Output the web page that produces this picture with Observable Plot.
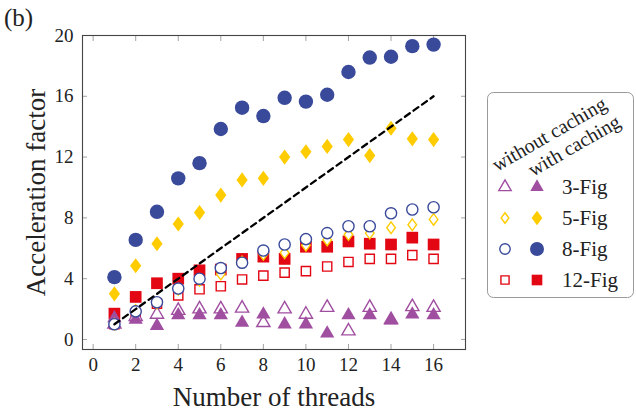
<!DOCTYPE html>
<html><head><meta charset="utf-8">
<script src="https://cdn.jsdelivr.net/npm/d3@7"></script>
<script src="https://cdn.jsdelivr.net/npm/@observablehq/plot@0.6"></script>
<style>
body{margin:0;background:#fff;}
#wrap{position:relative;width:636px;height:410px;font-family:"Liberation Serif",serif;color:#222;}
#wrap svg text{font-family:"Liberation Serif",serif;}
#tag{position:absolute;left:4px;top:4px;font-size:25px;}
#legend{position:absolute;left:0;top:0;}
</style></head><body><div id="wrap"><div id="tag">(b)</div></div>
<script>
// ---- data ----
const threads = [1,2,3,4,5,6,7,8,9,10,11,12,13,14,15,16];
const xTicks = [0,2,4,6,8,10,12,14,16];
const yTicks = [0,4,8,12,16,20];
const ideal = [1,16];
const fig3NoCache = [1.0,1.5,1.65,1.9,2.0,2.0,2.05,1.1,2.0,1.65,2.1,0.55,2.1,1.3,2.15,2.1];
const fig3Cache   = [1.4,1.3,0.9,1.6,1.6,1.6,1.1,1.65,1.0,1.0,0.4,1.6,1.6,1.25,1.65,1.6];
const fig5NoCache = [1.0,1.9,2.4,3.3,3.9,4.3,5.1,5.6,5.7,6.2,6.55,6.9,7.0,7.35,7.55,7.9];
const fig5Cache   = [3.0,4.85,6.3,7.6,8.35,9.5,10.5,10.6,12.0,12.35,12.7,13.15,12.1,13.9,13.2,13.15];
const fig8NoCache = [1.0,1.85,2.45,3.35,4.0,4.7,5.05,5.85,6.25,6.6,7.0,7.45,7.45,8.3,8.55,8.7];
const fig8Cache   = [4.1,6.55,8.4,10.6,11.6,13.85,15.25,14.7,15.9,15.65,16.1,17.6,18.55,18.6,19.3,19.4];
const fig12NoCache= [1.0,1.7,2.35,2.9,3.3,3.5,3.95,4.2,4.4,4.5,4.8,5.1,5.3,5.3,5.55,5.3];
const fig12Cache  = [1.7,2.8,3.7,4.0,4.55,4.6,5.3,5.45,5.3,6.1,6.1,6.45,6.3,6.25,6.7,6.25];
const labels = ["3-Fig","5-Fig","8-Fig","12-Fig"];
const colors = {"3-Fig":"#a04ea0","5-Fig":"#ffcc00","8-Fig":"#3a4a9b","12-Fig":"#e30613"};
const serif = "Liberation Serif, serif";

// custom diamond (aspect ~0.74)
const diamond = {draw(ctx, size){const k=0.74;const a=Math.sqrt(size*k/2);const b=a/k;ctx.moveTo(0,-b);ctx.lineTo(a,0);ctx.lineTo(0,b);ctx.lineTo(-a,0);ctx.closePath();}};

const toRows = v => v.map((y,i)=>({x:threads[i], y}));
const series = [
  {name:"12-Fig", data:fig12NoCache, filled:false, symbol:"square", r:5.2},
  {name:"12-Fig", data:fig12Cache, filled:true, symbol:"square", r:6.6},
  {name:"3-Fig", data:fig3NoCache, filled:false, symbol:"triangle", r:4.9},
  {name:"3-Fig", data:fig3Cache, filled:true, symbol:"triangle", r:5.3},
  {name:"5-Fig", data:fig5NoCache, filled:false, symbol:diamond, r:4.0},
  {name:"5-Fig", data:fig5Cache, filled:true, symbol:diamond, r:5.2},
  {name:"8-Fig", data:fig8NoCache, filled:false, symbol:"circle", r:5.6},
  {name:"8-Fig", data:fig8Cache, filled:true, symbol:"circle", r:7.2}
];

const dotMarks = series.map(s => Plot.dot(toRows(s.data), {
  x:"x", y:"y", symbol: s.symbol, r: s.r,
  fill: s.filled ? colors[s.name] : "white",
  stroke: s.filled ? "none" : colors[s.name],
  strokeWidth: 1.4
}));

const tickStyle = {stroke:"#999", strokeWidth:0.9, fontFamily:serif};
const chart = Plot.plot({
  width:636, height:410,
  marginLeft:82, marginRight:171, marginTop:35, marginBottom:61,
  style:{fontFamily:serif, fontSize:"19px", color:"#222", background:"transparent"},
  x:{domain:[-0.5,17.5]},
  y:{domain:[-0.66,20]},
  marks:[
    Plot.axisX(xTicks,{anchor:"bottom", tickSize:-5, tickPadding:13, label:null, ...tickStyle, fill:"#222", fontSize:19}),
    Plot.axisX(xTicks,{anchor:"top", tickSize:-5, tickFormat:()=>"", label:null, ...tickStyle}),
    Plot.axisY(yTicks,{anchor:"left", tickSize:-5, tickPadding:14, label:null, ...tickStyle, fill:"#222", fontSize:19}),
    Plot.axisY(yTicks,{anchor:"right", tickSize:-5, tickFormat:()=>"", label:null, ...tickStyle}),
    ...dotMarks,
    Plot.line(ideal.map(v=>({x:v,y:v})), {x:"x", y:"y", stroke:"black", strokeWidth:2.3, strokeDasharray:"6,4.5"}),
    Plot.frame({stroke:"#444", strokeWidth:1.1}),
    Plot.text(["Number of threads"], {frameAnchor:"bottom", dy:56, fontSize:27, fill:"#222", fontFamily:serif}),
    Plot.text(["Acceleration factor"], {frameAnchor:"left", textAnchor:"middle", dx:-46, rotate:-90, fontSize:27, fill:"#222", fontFamily:serif})
  ]
});
document.getElementById("wrap").appendChild(chart);

// ---- legend ----
const lg = d3.select("#wrap").append("svg").attr("id","legend").attr("width",636).attr("height",410);
lg.append("rect").attr("x",487.5).attr("y",92.5).attr("width",146).attr("height",205).attr("rx",6)
  .attr("fill","white").attr("stroke","#999").attr("stroke-width",1);
lg.append("text").attr("transform","translate(497,172) rotate(-30)").attr("font-size",20)
  .attr("font-family",serif).attr("fill","#222").text("without caching");
lg.append("text").attr("transform","translate(533,177) rotate(-30)").attr("font-size",20)
  .attr("font-family",serif).attr("fill","#222").text("with caching");
const legendSym = {"3-Fig":[d3.symbolTriangle,4.6,5.0],"5-Fig":[diamond,3.6,5.0],"8-Fig":[d3.symbolCircle,5.2,7.0],"12-Fig":[d3.symbolSquare,4.6,6.0]};
labels.forEach((name,i)=>{
  const y = 187 + i*31;
  const [sym, r0, r1] = legendSym[name];
  lg.append("path").attr("d", d3.symbol(sym, Math.PI*r0*r0)()).attr("transform",`translate(505,${y})`)
    .attr("fill","white").attr("stroke",colors[name]).attr("stroke-width",1.4);
  lg.append("path").attr("d", d3.symbol(sym, Math.PI*r1*r1)()).attr("transform",`translate(537,${y})`)
    .attr("fill",colors[name]);
  lg.append("text").attr("x",562).attr("y",y+7).attr("font-size",21)
    .attr("font-family",serif).attr("fill","#222").text(name);
});
</script></body></html>
